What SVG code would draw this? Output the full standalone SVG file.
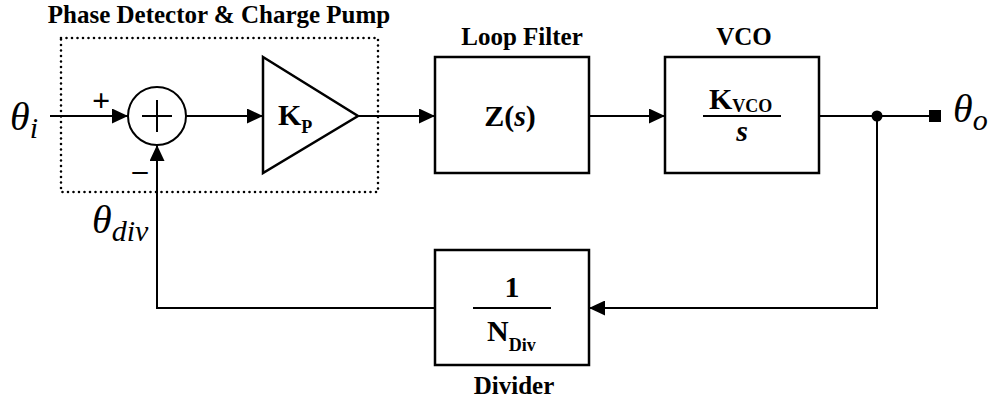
<svg xmlns="http://www.w3.org/2000/svg" width="992" height="404" viewBox="0 0 992 404">
<style>
.ln{stroke:#000;stroke-width:2;fill:none}
.bx{stroke:#000;stroke-width:2.5;fill:#fff}
text{font-family:"Liberation Serif","Times New Roman",Times,Tinos,"DejaVu Serif",serif;fill:#000}
.lbl{font-weight:bold;font-size:25px;text-anchor:middle}
.sym{font-weight:bold;font-size:30px}
.sub{font-weight:bold;font-size:18px}
.th{font-style:italic;font-size:40px}
.ths{font-style:italic;font-size:30px}
</style>
<defs>
<marker id="arr" markerUnits="userSpaceOnUse" markerWidth="16" markerHeight="15" refX="16" refY="7.5" orient="auto">
<path d="M0,0 L16,7.5 L0,15 z" fill="#000"/>
</marker>
</defs>
<rect width="992" height="404" fill="#fff"/>

<g id="pdcp">
<rect x="61" y="38" width="317" height="154" fill="none" stroke="#000" stroke-width="2.6" stroke-linecap="round" stroke-dasharray="0 5.5"/>
<text class="lbl" x="219" y="23">Phase Detector &amp; Charge Pump</text>
</g>

<g id="sum">
<circle cx="157" cy="116" r="29" class="ln"/>
<line x1="142" y1="116" x2="172" y2="116" class="ln"/>
<line x1="157" y1="100" x2="157" y2="132" class="ln"/>
<text x="101" y="111" font-weight="bold" font-size="32" text-anchor="middle">+</text>
<text x="140" y="180" font-weight="bold" font-size="30" text-anchor="middle">–</text>
</g>

<g id="kp">
<polygon points="263,57 358,116 263,173" class="bx"/>
<text class="sym" x="278" y="125">K<tspan class="sub" dy="8">P</tspan></text>
</g>

<g id="loopfilter">
<rect x="435" y="57" width="154" height="116" class="bx"/>
<text class="sym" x="510" y="126" text-anchor="middle">Z(<tspan font-style="italic">s</tspan>)</text>
<text class="lbl" x="522" y="45">Loop Filter</text>
</g>

<g id="vco">
<rect x="665" y="57" width="154" height="116" class="bx"/>
<text class="sym" x="709" y="109">K<tspan class="sub" dy="3">VCO</tspan></text>
<line x1="703" y1="116" x2="781" y2="116" class="ln" stroke-width="2.5"/>
<text class="sym" x="742" y="141" text-anchor="middle" font-style="italic">s</text>
<text class="lbl" x="744" y="45">VCO</text>
</g>

<g id="divider">
<rect x="435" y="250" width="154" height="115" class="bx"/>
<text class="sym" x="512" y="297" text-anchor="middle" font-size="29">1</text>
<line x1="473" y1="308" x2="551" y2="308" class="ln" stroke-width="2.5"/>
<text class="sym" x="487" y="341" font-size="29">N<tspan class="sub" dy="10">Div</tspan></text>
<text class="lbl" x="514" y="394">Divider</text>
</g>

<g id="input">
<text class="th" x="10" y="130">θ<tspan class="ths" dy="8">i</tspan></text>
</g>

<g id="output">
<rect x="929" y="110" width="12" height="12" fill="#000"/>
<text class="th" x="953" y="122">θ<tspan class="ths" dy="8">o</tspan></text>
</g>

<g id="thetadiv">
<text class="th" x="92" y="233">θ<tspan class="ths" dy="8">div</tspan></text>
</g>

<g id="connectors">
<line x1="50" y1="116" x2="128" y2="116" class="ln" marker-end="url(#arr)"/>
<line x1="186" y1="116" x2="263" y2="116" class="ln" marker-end="url(#arr)"/>
<line x1="358" y1="116" x2="435" y2="116" class="ln" marker-end="url(#arr)"/>
<line x1="589" y1="116" x2="665" y2="116" class="ln" marker-end="url(#arr)"/>
<line x1="819" y1="116" x2="930" y2="116" class="ln"/>
<circle cx="877" cy="116" r="5.5" fill="#000"/>
<polyline points="877,116 877,308 589,308" class="ln" marker-end="url(#arr)"/>
<polyline points="435,308 157,308 157,145" class="ln" marker-end="url(#arr)"/>
</g>
</svg>
